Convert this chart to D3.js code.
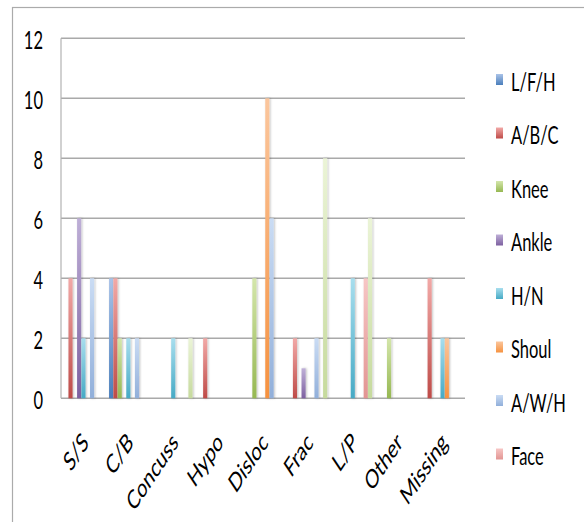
<!DOCTYPE html>
<html>
<head>
<meta charset="utf-8">
<script src="https://cdn.jsdelivr.net/npm/d3@7"></script>
<style>
  html, body { margin: 0; padding: 0; background: #fff; }
  svg { display: block; }
  text { font-family: Lato, "Open Sans", "Liberation Sans", sans-serif; fill: #000; }
</style>
</head>
<body>
<svg id="chart" width="584" height="522"></svg>
<script>
// ---- data ----
const categories = ["S/S", "C/B", "Concuss", "Hypo", "Disloc", "Frac", "L/P", "Other", "Missing"];
const seriesNames = ["L/F/H", "A/B/C", "Knee", "Ankle", "H/N", "Shoul", "A/W/H", "Face", "Series 9"];
const legendNames = ["L/F/H", "A/B/C", "Knee", "Ankle", "H/N", "Shoul", "A/W/H", "Face"];
const valsLFH   = [0, 4, 0, 0, 0, 0, 0, 0, 0];
const valsABC   = [4, 4, 0, 2, 0, 2, 0, 0, 4];
const valsKnee  = [0, 2, 0, 0, 4, 0, 0, 2, 0];
const valsAnkle = [6, 0, 0, 0, 0, 1, 0, 0, 0];
const valsHN    = [2, 2, 2, 0, 0, 0, 4, 0, 2];
const valsShoul = [0, 0, 0, 0, 10, 0, 0, 0, 2];
const valsAWH   = [4, 2, 0, 0, 6, 2, 0, 0, 0];
const valsFace  = [0, 0, 0, 0, 0, 0, 4, 0, 0];
const valsS9    = [0, 0, 2, 0, 0, 8, 6, 0, 0];
const yTicks = [0, 2, 4, 6, 8, 10, 12];

const seriesValues = [valsLFH, valsABC, valsKnee, valsAnkle, valsHN, valsShoul, valsAWH, valsFace, valsS9];
const topColors = ["#AAC3E8", "#F2A9A7", "#D4E6AB", "#BEAFD7", "#A8DEEE", "#FBC69D", "#CADCF4", "#F7C6C5", "#EBF4D7"];
const botColors = ["#4A7EBB", "#BE4B48", "#96B852", "#7D60A0", "#46AAC5", "#F69240", "#91AFDA", "#E29593", "#C6DA9D"];

// ---- layout ----
const svg = d3.select("#chart");
const SY = 1.5; // vertical stretch of text
const plot = { left: 61, right: 465, top: 38.3, bottom: 398.3 };

const x0 = d3.scaleBand().domain(categories).range([plot.left, plot.right])
  .paddingInner(0.136).paddingOuter(0.068);
const x1 = d3.scaleBand().domain(seriesNames).range([0, x0.bandwidth()]).padding(0);
const y = d3.scaleLinear().domain([0, 12]).range([plot.bottom, plot.top]);

const defs = svg.append("defs");
seriesNames.forEach((s, i) => {
  const g = defs.append("linearGradient").attr("id", "grad" + i)
    .attr("x1", 0).attr("y1", 0).attr("x2", 0).attr("y2", 1);
  g.append("stop").attr("offset", "0%").attr("stop-color", topColors[i]);
  g.append("stop").attr("offset", "100%").attr("stop-color", botColors[i]);
});
const f = defs.append("filter").attr("id", "shadow")
  .attr("x", "-100%").attr("y", "-5%").attr("width", "300%").attr("height", "110%");
f.append("feDropShadow").attr("dx", 1).attr("dy", 0).attr("stdDeviation", 0.9)
  .attr("flood-color", "#000").attr("flood-opacity", 0.25);

// outer frame
svg.append("rect").attr("x", 12.5).attr("y", 7.5).attr("width", 600).attr("height", 600)
  .attr("fill", "none").attr("stroke", "#ABABAB").attr("stroke-width", 1.2);

// gridlines
svg.append("g").selectAll("line").data(yTicks).join("line")
  .attr("x1", plot.left).attr("x2", plot.right)
  .attr("y1", d => y(d)).attr("y2", d => y(d))
  .attr("stroke", "#A9A9A9").attr("stroke-width", 1.6);
// left border of plot
svg.append("line").attr("x1", plot.left).attr("x2", plot.left)
  .attr("y1", plot.top).attr("y2", plot.bottom)
  .attr("stroke", "#B3B3B3").attr("stroke-width", 1.2);

// bars
const bars = [];
seriesNames.forEach((s, si) => {
  categories.forEach((c, ci) => {
    const v = seriesValues[si][ci];
    if (v > 0) bars.push({ s, si, c, v });
  });
});
svg.append("g").selectAll("rect").data(bars).join("rect")
  .attr("x", d => x0(d.c) + x1(d.s) + 0.1)
  .attr("width", x1.bandwidth() - 0.2)
  .attr("y", d => y(d.v))
  .attr("height", d => y(0) - y(d.v))
  .attr("fill", d => `url(#grad${d.si})`)
  .attr("filter", "url(#shadow)");

// y labels
svg.append("g").selectAll("g").data(yTicks).join("g")
  .attr("transform", d => `translate(43,${y(d) + 1}) scale(1,${SY})`)
  .append("text").attr("text-anchor", "end").attr("dominant-baseline", "central")
  .attr("font-size", 16.5).text(d => d);

// x labels
svg.append("g").selectAll("g").data(categories).join("g")
  .attr("transform", d => `translate(${x0(d) + x0.bandwidth() / 2 + 1.5},437) scale(1,${SY}) rotate(-45)`)
  .append("text").attr("text-anchor", "end").attr("dominant-baseline", "central")
  .attr("font-size", 17.5).text(d => d);

// legend
const lg = svg.append("g").selectAll("g").data(legendNames).join("g")
  .attr("transform", (d, i) => `translate(496,${79.5 + i * 53.5})`);
lg.append("rect").attr("x", 0).attr("y", -5.5).attr("width", 7).attr("height", 11)
  .attr("fill", (d, i) => `url(#grad${i})`);
lg.append("g").attr("transform", `translate(15,1) scale(1,${SY})`)
  .append("text").attr("dominant-baseline", "central").attr("font-size", 16.5).text(d => d);
</script>
</body>
</html>
